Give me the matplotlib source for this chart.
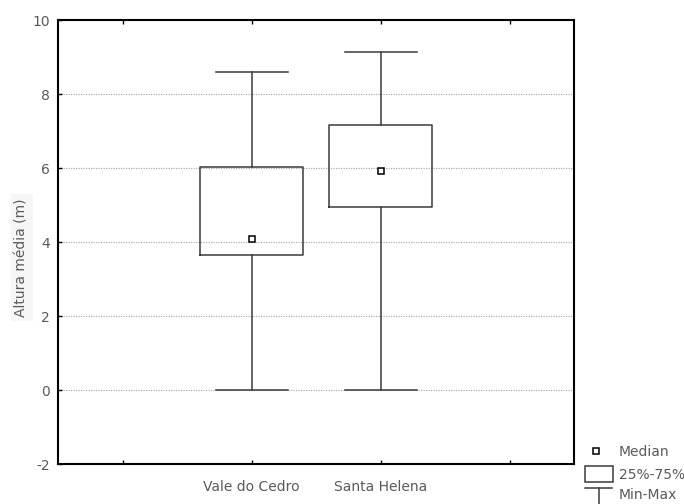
import matplotlib
matplotlib.use("Agg")
import matplotlib.pyplot as plt
from matplotlib.lines import Line2D
from matplotlib.patches import Rectangle

plt.rcParams['font.family'] = ['DejaVu Sans']
plt.rcParams['axes.unicode_minus'] = False

# Summary statistics per site (Altura média, m)
sites = ["Vale do Cedro", "Santa Helena"]
medians = [4.08, 5.94]
q1 = [3.65, 4.96]
q3 = [6.03, 7.16]
mins = [0.0, 0.0]
maxs = [8.60, 9.15]

positions = [1, 2]
xticks = [0, 1, 2, 3]
yticks = [-2, 0, 2, 4, 6, 8, 10]
gridlines = [0, 2, 4, 6, 8]

text_col = "#5a5a5a"
line_col = "#3a3a3a"
fsize = 10

fig = plt.figure(figsize=(6.84, 5.04), dpi=100)
ax = fig.add_axes([0.0852, 0.0788, 0.7540, 0.8809])

stats = [dict(med=m, q1=a, q3=b, whislo=lo, whishi=hi, fliers=[], label=s)
         for s, m, a, b, lo, hi in zip(sites, medians, q1, q3, mins, maxs)]

ax.bxp(stats, positions=positions, widths=0.8, capwidths=0.56,
       showfliers=False, patch_artist=False,
       boxprops=dict(color=line_col, linewidth=1.1),
       whiskerprops=dict(color=line_col, linewidth=1.1),
       capprops=dict(color=line_col, linewidth=1.1),
       medianprops=dict(linewidth=0), zorder=3)

ax.plot(positions, medians, linestyle='none', marker='s', markersize=4.2,
        markerfacecolor='white', markeredgecolor='black',
        markeredgewidth=1.1, zorder=4)

ax.set_xlim(-0.5, 3.5)
ax.set_ylim(-2, 10)
ax.set_xticks(xticks)
ax.set_xticklabels(["", sites[0], sites[1], ""])
ax.set_yticks(yticks)
ax.tick_params(axis='both', direction='in', length=3, width=1,
               colors='black', labelcolor=text_col, labelsize=fsize,
               top=True, right=False)
ax.tick_params(axis='x', pad=11.5)
ax.tick_params(axis='y', pad=6)

for g in gridlines:
    ax.axhline(g, color='#b0b0b0', linewidth=0.9, linestyle=(0, (1, 1)), zorder=1)

for sp in ax.spines.values():
    sp.set_linewidth(1.5)
    sp.set_color('black')

ax.set_ylabel("Altura média (m)", color=text_col, fontsize=fsize,
              bbox=dict(facecolor='#f6f6f6', edgecolor='none', pad=3))
ax.yaxis.set_label_coords(-0.057, 0.465)

# Legend drawn outside the axes, bottom right
W, H = 684, 504
def fx(px):
    return px / W
def fy(py):
    return 1 - py / H

fig.add_artist(Line2D([fx(596)], [fy(451)], marker='s', markersize=4.2,
                      markerfacecolor='white', markeredgecolor='black',
                      markeredgewidth=1.1, linestyle='none'))
fig.add_artist(Rectangle((fx(585), fy(482.3)), fx(612.7) - fx(585),
                         fy(465.7) - fy(482.3), facecolor='white',
                         edgecolor=line_col, linewidth=1.1))
fig.add_artist(Line2D([fx(585), fx(612)], [fy(487.5), fy(487.5)],
                      color=line_col, linewidth=1.1))
fig.add_artist(Line2D([fx(598.7), fx(598.7)], [fy(487.5), fy(504)],
                      color=line_col, linewidth=1.1))
for label, py in [("Median", 452.5), ("25%-75%", 475), ("Min-Max", 495)]:
    fig.text(fx(619), fy(py), label, color=text_col, fontsize=fsize,
             va='center', ha='left')

fig.savefig("out.png", dpi=100)
